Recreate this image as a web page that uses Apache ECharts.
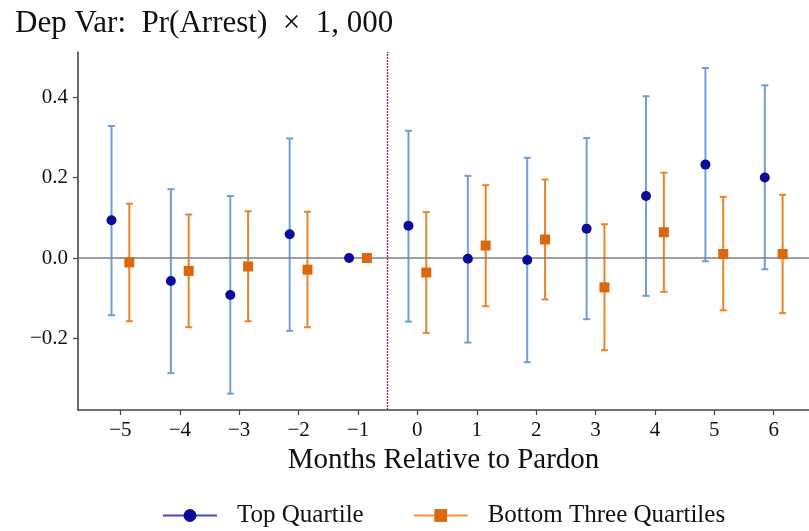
<!DOCTYPE html>
<html>
<head>
<meta charset="utf-8">
<script src="https://cdn.jsdelivr.net/npm/echarts@6/dist/echarts.min.js"></script>
<style>
  html, body { margin: 0; padding: 0; background: #ffffff; }
  #chart { width: 809px; height: 531px; }
</style>
</head>
<body>
<div id="chart"></div>
<script>
// Event-study estimates: months relative to the pardon
const months = [-5, -4, -3, -2, -1, 0, 1, 2, 3, 4, 5, 6];

// Top quartile: point estimate and 95% CI bounds
const topEst = [0.094, -0.057, -0.092, 0.059, 0.000, 0.080, -0.002, -0.005, 0.073, 0.154, 0.232, 0.200];
const topLo  = [-0.142, -0.286, -0.337, -0.181, null, -0.158, -0.210, -0.259, -0.152, -0.094, -0.008, -0.028];
const topHi  = [0.328, 0.171, 0.154, 0.297, null, 0.316, 0.204, 0.249, 0.298, 0.402, 0.472, 0.429];

// Bottom three quartiles: point estimate and 95% CI bounds
const botEst = [-0.011, -0.032, -0.021, -0.029, 0.000, -0.036, 0.031, 0.046, -0.073, 0.064, 0.010, 0.010];
const botLo  = [-0.157, -0.172, -0.157, -0.172, null, -0.186, -0.120, -0.103, -0.229, -0.084, -0.130, -0.137];
const botHi  = [0.135, 0.108, 0.116, 0.115, null, 0.114, 0.181, 0.195, 0.084, 0.212, 0.152, 0.157];

const yTicks = [-0.2, 0.0, 0.2, 0.4];
const seriesNames = ['Top Quartile', 'Bottom Three Quartiles'];

const FONT = '"Liberation Serif", "DejaVu Serif", serif';
const DODGE = 0.15;

const NAVY = '#0b0b9a';
const BLUE_CI = '#6f9fd8';
const ORANGE = '#dc680e';
const ORANGE_CI = '#e8842c';

function minusFmt(v, digits) {
  const s = digits == null ? String(Math.abs(v)) : Math.abs(v).toFixed(digits);
  return (v < -1e-9 ? '\u2212' : '') + s;
}

function ciData(lo, hi, offset) {
  const out = [];
  months.forEach((m, i) => {
    if (lo[i] != null && hi[i] != null) out.push([m + offset, lo[i], hi[i]]);
  });
  return out;
}

function pointData(est, offset) {
  return months.map((m, i) => [m + offset, est[i]]);
}

function errorBarRenderer(color) {
  return function (params, api) {
    const x = api.value(0);
    const lo = api.value(1);
    const hi = api.value(2);
    const top = api.coord([x, hi]);
    const bot = api.coord([x, lo]);
    const cap = 3.5;
    const style = { stroke: color, lineWidth: 2, fill: null };
    return {
      type: 'group',
      children: [
        { type: 'line', shape: { x1: top[0], y1: top[1], x2: bot[0], y2: bot[1] }, style: style },
        { type: 'line', shape: { x1: top[0] - cap, y1: top[1], x2: top[0] + cap, y2: top[1] }, style: style },
        { type: 'line', shape: { x1: bot[0] - cap, y1: bot[1], x2: bot[0] + cap, y2: bot[1] }, style: style }
      ]
    };
  };
}

const chart = echarts.init(document.getElementById('chart'), null, { renderer: 'canvas' });

chart.setOption({
  animation: false,
  backgroundColor: '#ffffff',
  title: {
    text: 'Dep Var:  Pr(Arrest)  \u00d7  1, 000',
    left: 10,
    top: 3,
    textStyle: { fontFamily: FONT, fontSize: 31, fontWeight: 'normal', color: '#111111' }
  },
  grid: { left: 78, right: 0, top: 52, bottom: 121, containLabel: false },
  legend: {
    bottom: -2,
    left: 157,
    itemWidth: 54,
    itemHeight: 16,
    itemGap: 49,
    textStyle: { fontFamily: FONT, fontSize: 25, color: '#111111', padding: [0, 0, 0, 15] },
    data: [
      { name: seriesNames[0], lineStyle: { color: '#4848c2', width: 2, opacity: 1 } },
      { name: seriesNames[1], lineStyle: { color: '#ef9448', width: 2, opacity: 1 } }
    ]
  },
  xAxis: {
    type: 'value',
    min: -5.714,
    max: 6.594,
    name: 'Months Relative to Pardon',
    nameLocation: 'middle',
    nameGap: 32,
    nameTextStyle: { fontFamily: FONT, fontSize: 29, color: '#111111' },
    splitLine: { show: false },
    axisLine: { show: true, onZero: false, lineStyle: { color: '#444444', width: 1.6 } },
    axisTick: { show: true, length: 5, lineStyle: { color: '#444444', width: 1.2 }, customValues: months },
    axisLabel: {
      fontFamily: FONT, fontSize: 21, color: '#111111', margin: 10,
      customValues: months,
      formatter: v => minusFmt(v)
    }
  },
  yAxis: {
    type: 'value',
    min: -0.3776,
    max: 0.5118,
    splitLine: { show: false },
    axisLine: { show: true, onZero: false, lineStyle: { color: '#444444', width: 1.6 } },
    axisTick: { show: true, length: 5, lineStyle: { color: '#444444', width: 1.2 }, customValues: yTicks },
    axisLabel: {
      fontFamily: FONT, fontSize: 21, color: '#111111', margin: 10,
      customValues: yTicks,
      formatter: v => minusFmt(v, 1)
    }
  },
  series: [
    {
      type: 'custom',
      name: 'topCI',
      renderItem: errorBarRenderer(BLUE_CI),
      data: ciData(topLo, topHi, -DODGE),
      encode: { x: 0, y: [1, 2] },
      z: 2,
      silent: true,
      markLine: {
        silent: true,
        symbol: 'none',
        label: { show: false },
        data: [
          { yAxis: 0, lineStyle: { color: '#7f7f7f', width: 1.5, type: 'solid' } },
          { xAxis: -0.5, lineStyle: { color: '#b8284a', width: 1.4, type: [2, 1] } }
        ]
      }
    },
    {
      type: 'custom',
      name: 'botCI',
      renderItem: errorBarRenderer(ORANGE_CI),
      data: ciData(botLo, botHi, DODGE),
      encode: { x: 0, y: [1, 2] },
      z: 2,
      silent: true
    },
    {
      type: 'line',
      name: seriesNames[0],
      data: pointData(topEst, -DODGE),
      symbol: 'circle',
      symbolSize: 10,
      showSymbol: true,
      itemStyle: { color: NAVY },
      lineStyle: { opacity: 0 },
      z: 5
    },
    {
      type: 'line',
      name: seriesNames[1],
      data: pointData(botEst, DODGE),
      symbol: 'rect',
      symbolSize: 10,
      showSymbol: true,
      itemStyle: { color: ORANGE },
      lineStyle: { opacity: 0 },
      z: 5
    }
  ]
});
</script>
</body>
</html>
